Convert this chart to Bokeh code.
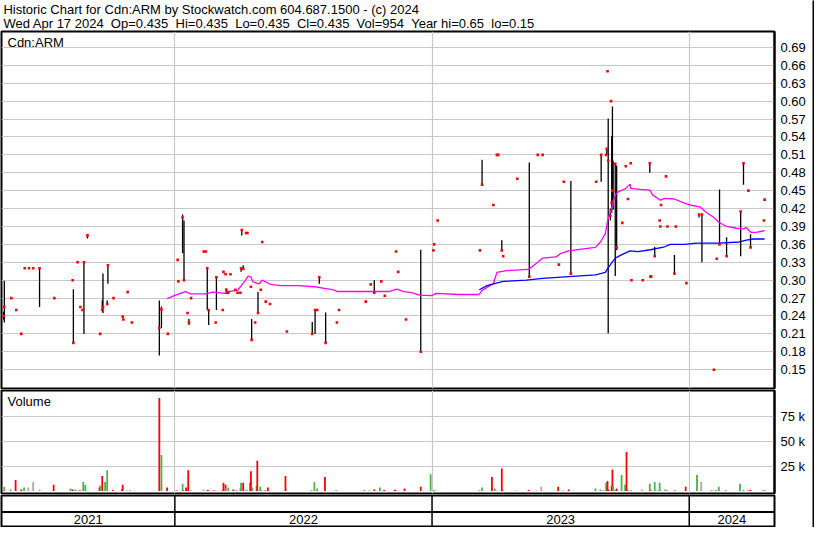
import pandas as pd
from bokeh.plotting import figure
from bokeh.layouts import column, row
from bokeh.models import Range1d, FixedTicker, PrintfTickFormatter, Grid, Span, ColumnDataSource
from bokeh.core.properties import value
from bokeh.embed import file_html
from bokeh.resources import INLINE

# ---------------- texts ----------------
title_line = "Historic Chart for Cdn:ARM by Stockwatch.com 604.687.1500 - (c) 2024"
quote_line = "Wed Apr 17 2024  Op=0.435  Hi=0.435  Lo=0.435  Cl=0.435  Vol=954  Year hi=0.65  lo=0.15"
symbol = "Cdn:ARM"
volume_title = "Volume"

# ---------------- axes data ----------------
price_ticks = [0.15, 0.18, 0.21, 0.24, 0.27, 0.30, 0.33, 0.36, 0.39, 0.42, 0.45, 0.48,
               0.51, 0.54, 0.57, 0.60, 0.63, 0.66, 0.69]
volume_ticks = [25000, 50000, 75000]
volume_tick_labels = ["25 k", "50 k", "75 k"]
year_starts = ["2022-01-01", "2023-01-01", "2024-01-01"]
year_labels = ["2021", "2022", "2023", "2024"]
view_start = "2021-04-30"
view_end = "2024-05-01"

# ---------------- daily price data ----------------
price_dates = [
    "2021-05-03", "2021-05-04", "2021-05-14", "2021-05-21", "2021-05-28", "2021-06-02", "2021-06-08",
    "2021-06-14", "2021-06-23", "2021-07-14", "2021-08-09", "2021-08-10", "2021-08-16", "2021-08-20",
    "2021-08-23", "2021-08-25", "2021-08-30", "2021-09-17", "2021-09-20", "2021-09-21", "2021-09-27",
    "2021-09-28", "2021-10-06", "2021-10-19", "2021-10-20", "2021-10-26", "2021-11-01", "2021-12-10",
    "2021-12-13", "2021-12-22", "2022-01-05", "2022-01-06", "2022-01-12", "2022-01-14", "2022-01-19",
    "2022-01-21", "2022-01-24", "2022-02-11", "2022-02-14", "2022-02-16", "2022-02-18", "2022-02-28",
    "2022-03-01", "2022-03-10", "2022-03-11", "2022-03-14", "2022-03-15", "2022-03-17", "2022-03-18",
    "2022-03-21", "2022-03-28", "2022-03-31", "2022-04-04", "2022-04-05", "2022-04-06", "2022-04-08",
    "2022-04-12", "2022-04-14", "2022-04-19", "2022-04-20", "2022-04-25", "2022-04-29", "2022-05-03",
    "2022-05-05", "2022-05-10", "2022-05-16", "2022-06-09", "2022-07-15", "2022-07-19", "2022-07-22",
    "2022-07-25", "2022-08-03", "2022-08-19", "2022-08-22", "2022-09-29", "2022-10-06", "2022-10-11",
    "2022-10-21", "2022-10-26", "2022-11-11", "2022-11-14", "2022-11-25", "2022-12-16", "2023-01-03",
    "2023-01-04", "2023-01-09", "2023-03-10", "2023-03-13", "2023-03-29", "2023-04-03", "2023-04-05",
    "2023-04-10", "2023-04-12", "2023-05-02", "2023-05-19", "2023-05-31", "2023-06-07", "2023-06-30",
    "2023-07-07", "2023-07-17", "2023-08-22", "2023-08-29", "2023-09-05", "2023-09-06", "2023-09-07",
    "2023-09-08", "2023-09-11", "2023-09-12", "2023-09-13", "2023-09-14", "2023-09-15", "2023-09-18",
    "2023-09-20", "2023-09-28", "2023-10-03", "2023-10-06", "2023-10-10", "2023-10-11", "2023-10-27",
    "2023-11-06", "2023-11-07", "2023-11-08", "2023-11-13", "2023-11-20", "2023-11-21", "2023-11-22",
    "2023-11-29", "2023-12-01", "2023-12-11", "2023-12-13", "2023-12-28", "2024-01-15", "2024-01-19",
    "2024-02-05", "2024-02-09", "2024-02-13", "2024-02-23", "2024-03-14", "2024-03-18", "2024-03-25",
    "2024-03-28", "2024-04-16", "2024-04-17",
]
price_high = [
    0.247, 0.299, 0.27, 0.25, 0.21, 0.32, 0.32,
    0.32, 0.321, 0.27, 0.30, 0.285, 0.33, 0.255,
    0.25, 0.33, 0.375, 0.21, 0.266, 0.311, 0.266,
    0.325, 0.27, 0.239, 0.234, 0.28, 0.229, 0.266,
    0.256, 0.21, 0.334, 0.298, 0.41, 0.40, 0.245,
    0.235, 0.27, 0.348, 0.348, 0.32, 0.25, 0.229,
    0.306, 0.25, 0.314, 0.31, 0.286, 0.279, 0.279,
    0.31, 0.284, 0.279, 0.279, 0.32, 0.384, 0.325,
    0.379, 0.379, 0.289, 0.235, 0.229, 0.28, 0.284,
    0.364, 0.264, 0.26, 0.214, 0.23, 0.25, 0.25,
    0.306, 0.246, 0.229, 0.25, 0.264, 0.293, 0.30,
    0.298, 0.274, 0.348, 0.314, 0.234, 0.351, 0.35,
    0.36, 0.40, 0.35, 0.502, 0.426, 0.51, 0.51,
    0.367, 0.34, 0.47, 0.497, 0.51, 0.51, 0.326,
    0.465, 0.466, 0.465, 0.511, 0.51, 0.52, 0.65,
    0.571, 0.42, 0.60, 0.541, 0.591, 0.50, 0.496,
    0.492, 0.396, 0.491, 0.436, 0.496, 0.30, 0.30,
    0.496, 0.306, 0.306, 0.356, 0.40, 0.39, 0.426,
    0.474, 0.39, 0.342, 0.39, 0.295, 0.41, 0.41,
    0.15, 0.336, 0.452, 0.372, 0.415, 0.496, 0.45,
    0.377, 0.40, 0.435,
]
price_low = [
    0.234, 0.229, 0.27, 0.25, 0.21, 0.32, 0.32,
    0.32, 0.255, 0.27, 0.30, 0.195, 0.33, 0.255,
    0.25, 0.21, 0.37, 0.21, 0.25, 0.245, 0.258,
    0.294, 0.27, 0.239, 0.234, 0.28, 0.229, 0.174,
    0.22, 0.21, 0.334, 0.298, 0.345, 0.30, 0.245,
    0.225, 0.27, 0.348, 0.348, 0.25, 0.225, 0.229,
    0.25, 0.25, 0.314, 0.31, 0.277, 0.279, 0.279,
    0.31, 0.284, 0.279, 0.279, 0.314, 0.375, 0.318,
    0.379, 0.379, 0.289, 0.20, 0.229, 0.245, 0.284,
    0.364, 0.264, 0.26, 0.214, 0.21, 0.21, 0.25,
    0.294, 0.195, 0.229, 0.25, 0.264, 0.293, 0.279,
    0.298, 0.274, 0.348, 0.314, 0.234, 0.18, 0.35,
    0.36, 0.40, 0.35, 0.46, 0.426, 0.51, 0.51,
    0.349, 0.34, 0.47, 0.306, 0.51, 0.51, 0.326,
    0.465, 0.311, 0.465, 0.465, 0.51, 0.51, 0.65,
    0.211, 0.40, 0.60, 0.413, 0.434, 0.418, 0.307,
    0.35, 0.396, 0.491, 0.436, 0.496, 0.30, 0.30,
    0.48, 0.306, 0.306, 0.34, 0.40, 0.39, 0.426,
    0.474, 0.39, 0.311, 0.39, 0.295, 0.405, 0.33,
    0.15, 0.336, 0.36, 0.341, 0.34, 0.46, 0.45,
    0.355, 0.40, 0.435,
]
price_close = [
    0.240, 0.255, 0.27, 0.25, 0.21, 0.32, 0.32,
    0.32, 0.32, 0.27, 0.30, 0.195, 0.33, 0.255,
    0.25, 0.33, 0.375, 0.21, 0.25, 0.255, 0.26,
    0.325, 0.27, 0.239, 0.234, 0.28, 0.229, 0.22,
    0.251, 0.21, 0.334, 0.298, 0.405, 0.30, 0.245,
    0.229, 0.27, 0.348, 0.348, 0.32, 0.25, 0.229,
    0.305, 0.25, 0.314, 0.31, 0.284, 0.279, 0.279,
    0.31, 0.284, 0.279, 0.279, 0.32, 0.384, 0.319,
    0.379, 0.379, 0.289, 0.20, 0.229, 0.245, 0.284,
    0.364, 0.264, 0.26, 0.214, 0.21, 0.25, 0.25,
    0.305, 0.195, 0.229, 0.25, 0.264, 0.293, 0.279,
    0.298, 0.274, 0.348, 0.314, 0.234, 0.18, 0.35,
    0.36, 0.40, 0.35, 0.46, 0.426, 0.51, 0.51,
    0.35, 0.34, 0.47, 0.306, 0.51, 0.51, 0.326,
    0.465, 0.311, 0.465, 0.51, 0.51, 0.52, 0.65,
    0.50, 0.408, 0.60, 0.43, 0.45, 0.45, 0.495,
    0.355, 0.396, 0.491, 0.436, 0.496, 0.30, 0.30,
    0.496, 0.306, 0.306, 0.34, 0.40, 0.39, 0.426,
    0.474, 0.39, 0.311, 0.39, 0.295, 0.41, 0.41,
    0.15, 0.336, 0.36, 0.34, 0.415, 0.496, 0.45,
    0.355, 0.40, 0.435,
]

# ---------------- moving averages ----------------
ma_short_dates = [
    "2021-12-21", "2022-01-02", "2022-01-16", "2022-01-23", "2022-02-13", "2022-02-24", "2022-03-13",
    "2022-03-17", "2022-03-31", "2022-04-10", "2022-04-15", "2022-04-19", "2022-04-22", "2022-05-01",
    "2022-05-05", "2022-05-15", "2022-05-22", "2022-06-02", "2022-06-25", "2022-07-19", "2022-08-03",
    "2022-08-13", "2022-08-20", "2022-09-24", "2022-11-01", "2022-11-12", "2022-11-22", "2022-12-03",
    "2022-12-14", "2022-12-31", "2023-01-07", "2023-02-07", "2023-03-09", "2023-03-13", "2023-03-29",
    "2023-04-03", "2023-04-17", "2023-05-17", "2023-05-21", "2023-05-31", "2023-06-07", "2023-06-26",
    "2023-07-03", "2023-07-14", "2023-08-01", "2023-08-21", "2023-08-28", "2023-09-04", "2023-09-07",
    "2023-09-12", "2023-09-18", "2023-09-22", "2023-10-02", "2023-10-09", "2023-10-10", "2023-10-24",
    "2023-11-06", "2023-11-10", "2023-11-21", "2023-11-27", "2023-12-11", "2023-12-25", "2024-01-02",
    "2024-01-16", "2024-01-26", "2024-02-05", "2024-02-12", "2024-02-23", "2024-03-08", "2024-03-18",
    "2024-03-22", "2024-03-29", "2024-04-05", "2024-04-17",
]
ma_short_values = [
    0.269, 0.275, 0.281, 0.277, 0.277, 0.280, 0.278,
    0.281, 0.283, 0.298, 0.307, 0.305, 0.297, 0.294,
    0.300, 0.294, 0.292, 0.291, 0.291, 0.289, 0.286,
    0.284, 0.281, 0.281, 0.281, 0.285, 0.281, 0.279,
    0.275, 0.274, 0.278, 0.276, 0.276, 0.283, 0.294,
    0.313, 0.316, 0.318, 0.321, 0.330, 0.337, 0.339,
    0.345, 0.349, 0.352, 0.355, 0.364, 0.378, 0.399,
    0.418, 0.443, 0.448, 0.453, 0.461, 0.454, 0.452,
    0.451, 0.443, 0.434, 0.437, 0.436, 0.429, 0.426,
    0.423, 0.413, 0.405, 0.397, 0.390, 0.387, 0.386,
    0.388, 0.380, 0.380, 0.383,
]
ma_long_dates = [
    "2023-03-09", "2023-03-20", "2023-03-29", "2023-04-12", "2023-05-15", "2023-06-07", "2023-07-14",
    "2023-08-21", "2023-09-04", "2023-09-08", "2023-09-18", "2023-09-26", "2023-10-09", "2023-10-20",
    "2023-11-07", "2023-11-27", "2023-12-05", "2023-12-25", "2024-01-11", "2024-02-12", "2024-03-12",
    "2024-03-22", "2024-04-01", "2024-04-17",
]
ma_long_values = [
    0.284, 0.291, 0.294, 0.298, 0.300, 0.303, 0.306,
    0.309, 0.313, 0.321, 0.337, 0.342, 0.349, 0.348,
    0.351, 0.356, 0.360, 0.360, 0.362, 0.362, 0.364,
    0.367, 0.369, 0.369,
]

# ---------------- daily volume ----------------
vol_dates = [
    "2021-05-03", "2021-05-04", "2021-05-13", "2021-05-20", "2021-05-28", "2021-06-01", "2021-06-07",
    "2021-06-14", "2021-06-23", "2021-07-13", "2021-08-06", "2021-08-09", "2021-08-13", "2021-08-18",
    "2021-08-20", "2021-08-24", "2021-08-27", "2021-09-16", "2021-09-17", "2021-09-20", "2021-09-24",
    "2021-09-27", "2021-10-05", "2021-10-18", "2021-10-19", "2021-10-25", "2021-10-29", "2021-12-10",
    "2021-12-13", "2021-12-21", "2022-01-03", "2022-01-04", "2022-01-12", "2022-01-13", "2022-01-17",
    "2022-01-20", "2022-01-24", "2022-02-10", "2022-02-11", "2022-02-16", "2022-02-17", "2022-02-25",
    "2022-02-28", "2022-03-09", "2022-03-11", "2022-03-14", "2022-03-15", "2022-03-18", "2022-03-25",
    "2022-03-29", "2022-04-04", "2022-04-05", "2022-04-08", "2022-04-12", "2022-04-13", "2022-04-18",
    "2022-04-19", "2022-04-21", "2022-04-27", "2022-04-28", "2022-05-02", "2022-05-03", "2022-05-09",
    "2022-05-13", "2022-06-07", "2022-07-14", "2022-07-18", "2022-07-21", "2022-07-22", "2022-08-02",
    "2022-08-17", "2022-08-19", "2022-09-27", "2022-10-04", "2022-10-11", "2022-10-19", "2022-10-25",
    "2022-11-09", "2022-11-10", "2022-11-23", "2022-12-16", "2022-12-30", "2023-01-03", "2023-01-05",
    "2023-03-09", "2023-03-13", "2023-03-27", "2023-03-31", "2023-04-03", "2023-04-10", "2023-04-11",
    "2023-05-01", "2023-05-18", "2023-05-29", "2023-06-05", "2023-06-29", "2023-07-06", "2023-07-14",
    "2023-08-21", "2023-08-28", "2023-09-01", "2023-09-05", "2023-09-07", "2023-09-08", "2023-09-11",
    "2023-09-13", "2023-09-14", "2023-09-15", "2023-09-18", "2023-09-20", "2023-09-27", "2023-10-02",
    "2023-10-04", "2023-10-06", "2023-10-10", "2023-10-26", "2023-11-06", "2023-11-07", "2023-11-08",
    "2023-11-13", "2023-11-14", "2023-11-17", "2023-11-20", "2023-11-22", "2023-11-28", "2023-12-01",
    "2023-12-11", "2023-12-12", "2023-12-27", "2024-01-12", "2024-01-18", "2024-02-02", "2024-02-08",
    "2024-02-12", "2024-02-22", "2024-03-13", "2024-03-18", "2024-03-25", "2024-03-28", "2024-04-15",
    "2024-04-17",
]
vol_values = [
    1100, 4300, 1400, 11000, 1400, 3400, 3400,
    9100, 1400, 6300, 2400, 1400, 1400, 600,
    600, 9100, 6300, 3400, 5300, 14900, 9100,
    20700, 900, 1400, 6300, 600, 600, 93000,
    36000, 3400, 600, 600, 7300, 600, 3400,
    20700, 400, 600, 1400, 600, 900, 400,
    600, 600, 8200, 6300, 2400, 3400, 1400,
    600, 2400, 8200, 8200, 400, 1400, 8200,
    19700, 3400, 5300, 30300, 4300, 900, 400,
    3400, 14900, 600, 9100, 400, 2400, 14000,
    600, 400, 900, 400, 1400, 3400, 900,
    1400, 900, 2400, 4300, 16800, 600, 900,
    600, 3400, 14000, 2400, 600, 22600, 900,
    600, 900, 400, 4300, 4300, 400, 1400,
    2400, 1400, 900, 8200, 10000, 1400, 600,
    5300, 21600, 5300, 1400, 2400, 15900, 6300,
    38900, 400, 400, 1400, 7300, 900, 400,
    9100, 2400, 400, 8200, 400, 1400, 600,
    600, 400, 4300, 15900, 9100, 600, 900,
    4300, 600, 7300, 900, 400, 900, 400,
    954,
]
vol_dir = [
    "up", "up", "up", "down", "down", "up", "flat",
    "flat", "flat", "down", "up", "down", "up", "down",
    "down", "up", "up", "down", "up", "down", "up",
    "up", "down", "down", "down", "up", "down", "down",
    "up", "down", "up", "down", "up", "down", "down",
    "down", "up", "flat", "flat", "down", "down", "down",
    "up", "down", "down", "down", "flat", "up", "down",
    "down", "up", "up", "down", "up", "flat", "down",
    "down", "up", "up", "down", "up", "up", "down",
    "down", "down", "down", "up", "flat", "up", "down",
    "up", "up", "up", "up", "down", "up", "down",
    "up", "down", "down", "down", "up", "up", "up",
    "down", "up", "down", "up", "flat", "down", "down",
    "up", "down", "up", "flat", "down", "up", "down",
    "up", "up", "flat", "up", "down", "down", "up",
    "down", "down", "up", "flat", "down", "up", "up",
    "down", "down", "down", "flat", "up", "down", "flat",
    "up", "flat", "up", "up", "up", "up", "down",
    "down", "up", "down", "up", "flat", "down", "up",
    "up", "down", "up", "up", "down", "down", "up",
    "up",
]

# ---------------- styling ----------------
FONT = "Liberation Sans"
FS = "13px"
GRID = "#c8c8c8"
DIR_COLORS = {"up": "#4cb04c", "down": "#ff0000", "flat": "#a8a8a8"}

FIG_W = 812
RIGHT_W = 38
FRAME_W = FIG_W - 1 - RIGHT_W
H_HEAD, H_PRICE, H_VOL, H_BOT = 30, 359, 105, 33
TOTAL_H = H_HEAD + H_PRICE + H_VOL + H_BOT


def ms(d):
    return pd.Timestamp(d).value / 1e6


x0, x1 = ms(view_start), ms(view_end)
xr = Range1d(x0, x1)
year_ticks = [ms(d) for d in year_starts]

# ---------------- header ----------------
hf = figure(width=FIG_W, height=H_HEAD, x_range=Range1d(0, FIG_W), y_range=Range1d(0, H_HEAD),
            x_axis_location=None, y_axis_location=None, output_backend="svg", toolbar_location=None,
            min_border=0)
hf.outline_line_color = None
hf.xgrid.grid_line_color = None
hf.ygrid.grid_line_color = None
hf.text(x=[2, 2], y=[H_HEAD - 8.5, H_HEAD - 22.5],
        text=[title_line, quote_line.replace("  ", " \u00a0")],
        text_font=value(FONT), text_font_size=FS, text_color="black", text_baseline="middle")


def style_panel(f):
    f.outline_line_color = "black"
    f.outline_line_width = 2
    f.outline_line_alpha = 1
    f.background_fill_color = "white"
    f.border_fill_color = "white"
    f.xgrid.grid_line_color = None
    f.add_layout(Grid(dimension=0, ticker=FixedTicker(ticks=year_ticks),
                      grid_line_color=GRID, grid_line_width=1.2))


def style_axis(ax):
    ax.major_tick_line_color = None
    ax.minor_tick_line_color = None
    ax.major_tick_out = 0
    ax.major_tick_in = 0
    ax.axis_line_color = "black"
    ax.axis_line_width = 2
    ax.major_label_text_font = FONT
    ax.major_label_text_font_size = FS
    ax.major_label_text_color = "black"
    ax.major_label_standoff = 6


# ---------------- price panel ----------------
py0, py1 = 0.1185, 0.7167
pf = figure(width=FIG_W, height=H_PRICE, x_range=xr, y_range=Range1d(py0, py1),
            x_axis_location=None, y_axis_location="right", output_backend="svg",
            toolbar_location=None, min_border_left=1, min_border_right=RIGHT_W,
            min_border_top=1, min_border_bottom=1)
style_panel(pf)
pax = pf.yaxis[0]
pax.ticker = FixedTicker(ticks=price_ticks)
pax.formatter = PrintfTickFormatter(format="%.2f")
style_axis(pax)
pf.ygrid.grid_line_color = GRID
pf.ygrid.grid_line_width = 1.2

psrc = ColumnDataSource(dict(x=[ms(d) for d in price_dates], hi=price_high, lo=price_low, cl=price_close))
pf.segment(x0="x", y0="lo", x1="x", y1="hi", source=psrc, line_color="black", line_width=1.3)
pf.line([ms(d) for d in ma_short_dates], ma_short_values, line_color="#ff00ff", line_width=1.3)
pf.line([ms(d) for d in ma_long_dates], ma_long_values, line_color="#0000ff", line_width=1.3)
pf.scatter(x="x", y="cl", source=psrc, marker="square", size=2.6, fill_color="#ff0000",
           line_color=None)
frame_h_price = H_PRICE - 2
pf.text(x=[x0 + 6 * (x1 - x0) / FRAME_W], y=[py1 - 11 * (py1 - py0) / frame_h_price], text=[symbol],
        text_font=value(FONT), text_font_size=FS, text_color="black", text_baseline="middle")

# ---------------- volume panel ----------------
vy0, vy1 = -2500, 100500
vf = figure(width=FIG_W, height=H_VOL, x_range=xr, y_range=Range1d(vy0, vy1),
            x_axis_location=None, y_axis_location="right", output_backend="svg",
            toolbar_location=None, min_border_left=1, min_border_right=RIGHT_W,
            min_border_top=1, min_border_bottom=1)
style_panel(vf)
vax = vf.yaxis[0]
vax.ticker = FixedTicker(ticks=volume_ticks)
vax.major_label_overrides = {t: l for t, l in zip(volume_ticks, volume_tick_labels)}
style_axis(vax)
vf.ygrid.grid_line_color = GRID
vf.ygrid.grid_line_width = 1.2
vsrc = ColumnDataSource(dict(x=[ms(d) for d in vol_dates], v=vol_values, zero=[0] * len(vol_values),
                             c=[DIR_COLORS[d] for d in vol_dir]))
vf.segment(x0="x", y0="zero", x1="x", y1="v", source=vsrc, line_color="c", line_width=1.8)
frame_h_vol = H_VOL - 2
vf.text(x=[x0 + 6 * (x1 - x0) / FRAME_W], y=[vy1 - 11 * (vy1 - vy0) / frame_h_vol], text=[volume_title],
        text_font=value(FONT), text_font_size=FS, text_color="black", text_baseline="middle")

# ---------------- year strip ----------------
bf = figure(width=FIG_W, height=H_BOT, x_range=xr, y_range=Range1d(0, H_BOT - 2),
            x_axis_location=None, y_axis_location=None, output_backend="svg",
            toolbar_location=None, min_border_left=1, min_border_right=RIGHT_W,
            min_border_top=1, min_border_bottom=1)
bf.outline_line_color = "black"
bf.outline_line_width = 2
bf.xgrid.grid_line_color = None
bf.ygrid.grid_line_color = None
for t in year_ticks:
    bf.add_layout(Span(location=t, dimension="height", line_color="black", line_width=1.5))
row_h = 14.5
bf.add_layout(Span(location=row_h, dimension="width", line_color="black", line_width=2))
edges = [x0] + year_ticks + [x1]
mids = [(a + b) / 2 for a, b in zip(edges[:-1], edges[1:])]
bf.text(x=mids, y=[row_h / 2] * len(mids), text=year_labels, text_font=value(FONT),
        text_font_size=FS, text_color="black", text_align="center", text_baseline="middle")

# ---------------- right frame edge ----------------
edge = figure(width=2, height=TOTAL_H, x_range=Range1d(0, 1), y_range=Range1d(0, 1),
              x_axis_location=None, y_axis_location=None, output_backend="svg",
              toolbar_location=None, min_border=0)
edge.outline_line_color = None
edge.background_fill_color = "black"
edge.border_fill_color = "black"
edge.xgrid.grid_line_color = None
edge.ygrid.grid_line_color = None

layout = row(column(hf, pf, vf, bf, spacing=0), edge, spacing=0)

with open("out.html", "w") as fh:
    fh.write(file_html(layout, INLINE))
